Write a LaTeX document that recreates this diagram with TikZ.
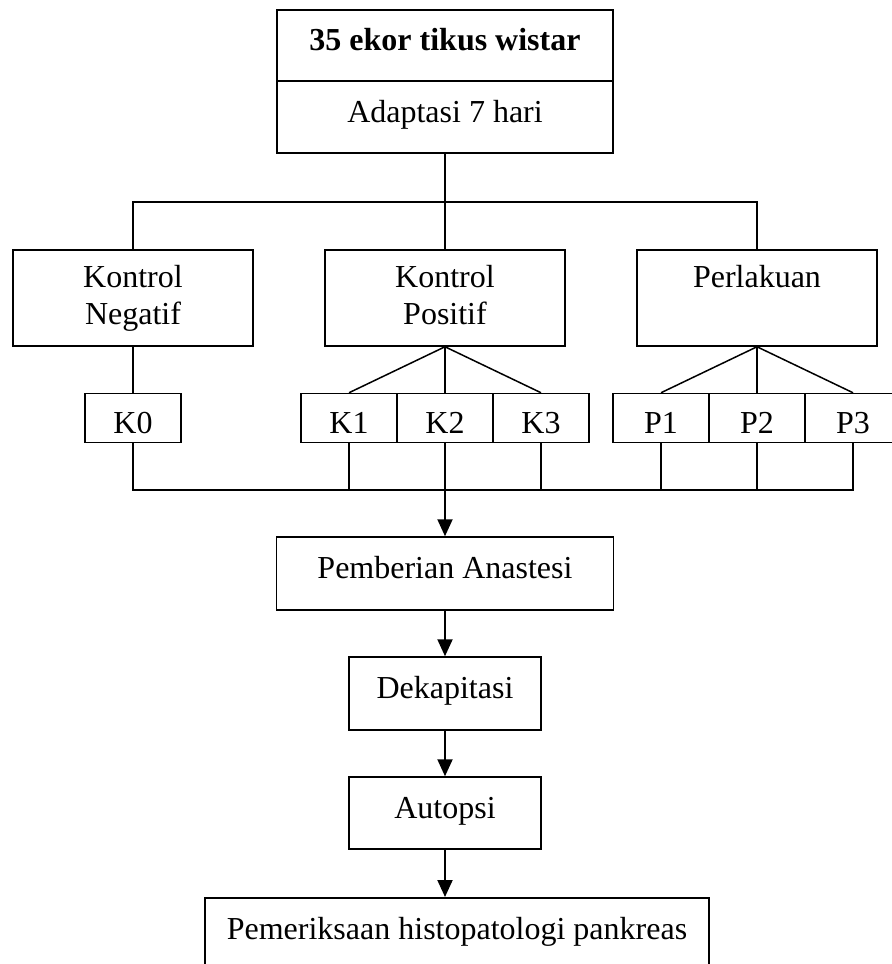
\documentclass[tikz,border=0pt]{standalone}
\usepackage{fontspec}
\setmainfont{Liberation Serif}
\usetikzlibrary{positioning, arrows.meta}

\begin{document}
\begin{tikzpicture}[
    x=0.5pt, y=-0.5pt,
    font=\fontsize{16}{18.5}\selectfont,
    line width=0.75pt,
    box/.style={rectangle, draw, inner sep=0pt, align=center, text height=10.5pt, text depth=5.5pt},
    group/.style={rectangle, draw, inner sep=0pt, align=center, minimum width=120pt, minimum height=48pt},
    small/.style={rectangle, draw, inner sep=0pt, minimum width=48pt, minimum height=24.5pt, text height=15pt, text depth=0pt},
    arrow/.style={-{Triangle[length=8.5pt, width=7.5pt]}, line width=1pt}
]
    \useasboundingbox (0,0) rectangle (892,964);

    % 1. Top box (two stacked cells)
    \node[box, minimum width=168pt, minimum height=35.5pt, font=\fontsize{16}{18.5}\selectfont\bfseries] (title) at (445,45.5) {35 ekor tikus wistar};
    \node[box, minimum width=168pt, minimum height=36pt] (adapt) at (445,117) {Adaptasi 7 hari};

    % 2. Three groups
    \node[group] (neg) at (133,298) {Kontrol\\ Negatif};
    \node[group] (pos) at (445,298) {Kontrol\\ Positif\vphantom{g}};
    \node[group] (perl) at (757,298) {Perlakuan\\ \vphantom{g}};

    % 3. Sub groups
    \node[small] (k0) at (133,418) {K0};
    \node[small] (k1) at (349,418) {K1};
    \node[small] (k2) at (445,418) {K2};
    \node[small] (k3) at (541,418) {K3};
    \node[small] (p1) at (661,418) {P1};
    \node[small] (p2) at (757,418) {P2};
    \node[small] (p3) at (853,418) {P3};

    % 4. Procedure steps
    \node[box, minimum width=168.5pt, minimum height=36.5pt] (anast) at (445,573.5) {Pemberian Anastesi};
    \node[box, minimum width=96pt, minimum height=36.5pt] (dekap) at (445,693.5) {Dekapitasi};
    \node[box, minimum width=96pt, minimum height=36pt] (autopsi) at (445,813) {Autopsi};
    \node[box, minimum width=252pt, minimum height=37pt, anchor=north] (histo) at (457,897) {Pemeriksaan histopatologi pankreas};

    % 5. Split lines
    \coordinate (split) at (445,202);
    \coordinate (join) at (445,490);
    \draw (adapt.south) -- (pos.north);
    \draw (neg.north) |- (split) -| (perl.north);
    \draw (neg.south) -- (k0.north);
    \foreach \s in {k1,k2,k3} \draw (pos.south) -- (\s.north);
    \foreach \s in {p1,p2,p3} \draw (perl.south) -- (\s.north);

    % 6. Join lines & arrows
    \draw (k0.south) |- (join) -| (p3.south);
    \foreach \s in {k1,k3,p1,p2} \draw (\s.south) -- (\s.south |- join);
    \draw[arrow] (k2.south) -- (anast.north);
    \draw[arrow] (anast.south) -- (dekap.north);
    \draw[arrow] (dekap.south) -- (autopsi.north);
    \draw[arrow] (autopsi.south) -- (autopsi.south |- histo.north);

\end{tikzpicture}
\end{document}
